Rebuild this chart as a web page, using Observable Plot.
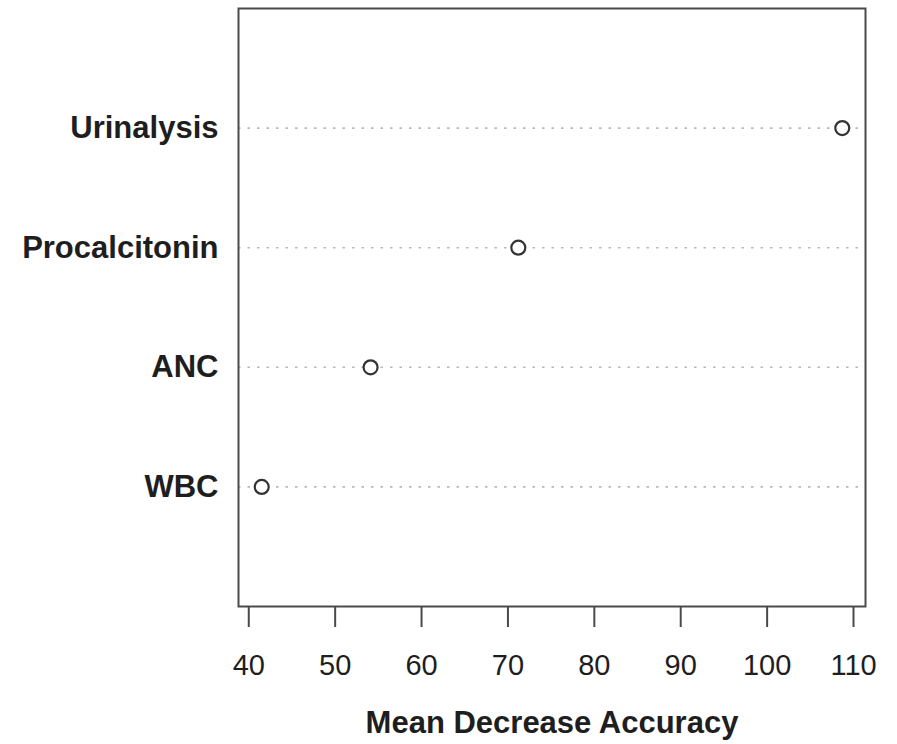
<!DOCTYPE html>
<html>
<head>
<meta charset="utf-8">
<script src="https://cdn.jsdelivr.net/npm/d3@7"></script>
<script src="https://cdn.jsdelivr.net/npm/@observablehq/plot@0.6"></script>
<style>
  html, body { margin: 0; padding: 0; background: #fff; }
  #chart svg { display: block; }
</style>
</head>
<body>
<div id="chart"></div>
<script>
const variables = ["WBC", "ANC", "Procalcitonin", "Urinalysis"];
const accuracy = [41.5, 54.1, 71.2, 108.7];
const xTicks = [40, 50, 60, 70, 80, 90, 100, 110];
const xTitle = "Mean Decrease Accuracy";

const data = variables.map((name, i) => ({name, value: accuracy[i], pos: i + 1}));

// R dotchart-style x range: data extent padded by 4%
const [lo, hi] = d3.extent(accuracy);
const pad = (hi - lo) * 0.04;
const xDomain = [lo - pad, hi + pad];

const font = "'Liberation Sans', Arial, Helvetica, sans-serif";

const chart = Plot.plot({
  width: 897,
  height: 744,
  marginLeft: 238,
  marginRight: 32,
  marginTop: 8,
  marginBottom: 138,
  style: {fontFamily: font, color: "#1e1e1e", background: "#fff"},
  x: {domain: xDomain},
  y: {domain: [0, variables.length + 1]},
  marks: [
    Plot.ruleY(data, {y: "pos", stroke: "#b8b8b8", strokeWidth: 1.6, strokeDasharray: "2.5,7"}),
    Plot.frame({stroke: "#4a4a4a", strokeWidth: 2}),
    Plot.dot(data, {x: "value", y: "pos", r: 7, stroke: "#333", strokeWidth: 2.2, fill: "white"}),
    Plot.axisX({ticks: xTicks, tickSize: 21, tickPadding: 27, fontSize: 29, stroke: "#4a4a4a", strokeWidth: 2, label: null}),
    Plot.axisY({ticks: data.map(d => d.pos), tickFormat: p => variables[p - 1], tickSize: 0, tickPadding: 20, fontSize: 31, fontWeight: "bold", label: null}),
    Plot.text([xTitle], {frameAnchor: "bottom", dy: 126, fontSize: 31, fontWeight: "bold", fill: "#1e1e1e"})
  ]
});

document.getElementById("chart").appendChild(chart);
</script>
</body>
</html>
